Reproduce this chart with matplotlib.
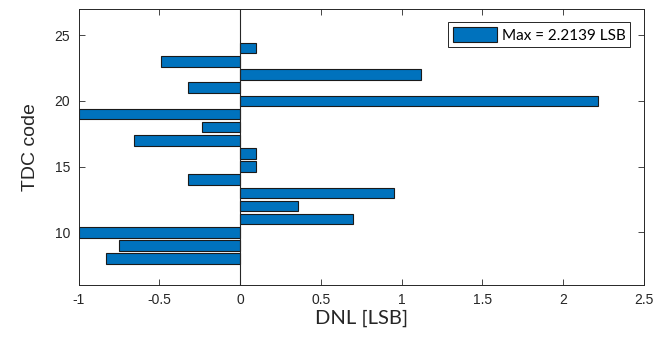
import matplotlib
matplotlib.use("Agg")
import numpy as np
import matplotlib.pyplot as plt

# DNL per TDC code
codes = [8, 9, 10, 11, 12, 13, 14, 15, 16, 17, 18, 19, 20, 21, 22, 23, 24]
dnl = [-0.83, -0.747, -1.0, 0.70, 0.358, 0.95, -0.32, 0.10, 0.10,
       -0.658, -0.236, -1.0, 2.2139, -0.32, 1.12, -0.49, 0.10]
xticks = [-1, -0.5, 0, 0.5, 1, 1.5, 2, 2.5]
yticks = [10, 15, 20, 25]

plt.rcParams["font.family"] = ["Liberation Sans", "DejaVu Sans"]

fig = plt.figure(figsize=(6.59, 3.39), dpi=100)
ax = fig.add_axes([78.5/659, 1-285/339, (644-78.5)/659, (285-8.7)/339])

mx = max(dnl)
ax.barh(codes, dnl, height=0.8, color="#0072BD", edgecolor="#1a1a1a", lw=0.8,
        label=f"Max = {mx:.4f} LSB", zorder=2)
ax.axvline(0, color="#262626", lw=0.8, zorder=3)

ax.set_xlim(-1, 2.5); ax.set_ylim(6, 27)
ax.set_xticks(xticks); ax.set_xticklabels([f"{t:g}" for t in xticks])
ax.set_yticks(yticks)
ax.tick_params(direction="in", length=4, width=0.6, top=True, right=True,
               labelsize=10, colors="#262626", pad=6)
for s in ax.spines.values():
    s.set_color("#262626"); s.set_linewidth(0.7)

ax.set_xlabel("DNL [LSB]", fontsize=14.5, family=["Lato", "DejaVu Sans"], color="#262626", labelpad=2)
ax.set_ylabel("TDC code", fontsize=14, color="#262626", labelpad=11)

leg = ax.legend(loc="upper right", prop={"family": ["Lato", "DejaVu Sans"], "size": 11},
                handlelength=2.9, handleheight=1.1, fancybox=False, framealpha=1,
                edgecolor="#262626", borderpad=0.3, handletextpad=0.3,
                borderaxespad=0.9)
leg.get_frame().set_linewidth(0.7)

fig.savefig("out.png", dpi=100)
